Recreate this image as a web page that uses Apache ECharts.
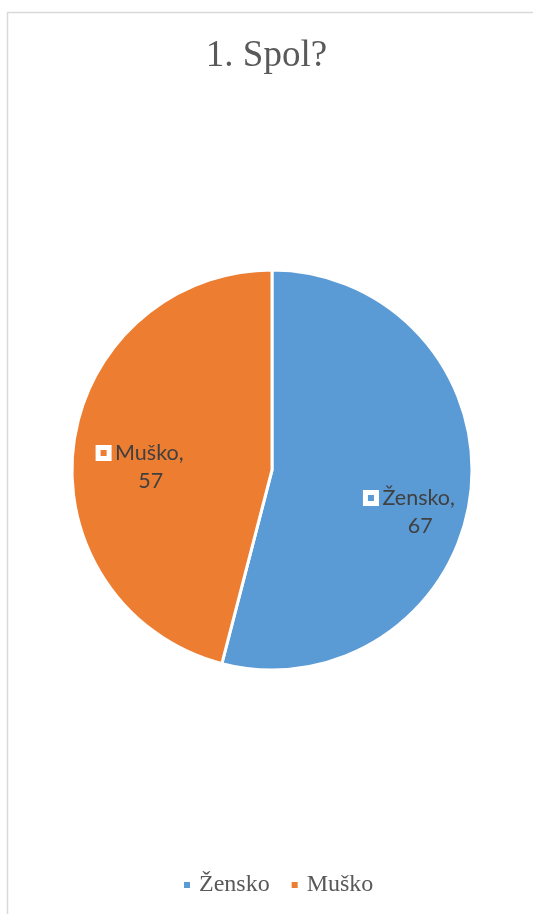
<!DOCTYPE html>
<html>
<head>
<meta charset="utf-8">
<script src="https://cdn.jsdelivr.net/npm/echarts@6/dist/echarts.min.js"></script>
<style>
html,body{margin:0;padding:0;background:#fff;}
#chart{width:533px;height:914px;}
</style>
</head>
<body>
<div id="chart"></div>
<script>
const titleText = '1. Spol?';
const categories = ['Žensko', 'Muško'];
const values = [67, 57];
const colors = ['#5B9BD5', '#ED7D31'];

const labelOffsets = [[36, 29], [-29, 10]];

const chart = echarts.init(document.getElementById('chart'), null, {renderer: 'canvas'});
chart.setOption({
  animation: false,
  backgroundColor: '#fff',
  color: colors,
  graphic: [{
    type: 'rect',
    shape: {x: 7.5, y: 12.5, width: 600, height: 1000},
    style: {fill: 'none', stroke: '#d9d9d9', lineWidth: 1.5},
    silent: true,
    z: -10
  }],
  title: {
    text: titleText,
    left: 'center',
    top: 33,
    textStyle: {fontFamily: 'Liberation Serif', fontSize: 37, fontWeight: 'normal', color: '#595959'}
  },
  legend: {
    bottom: 12,
    left: 177,
    icon: 'rect',
    itemWidth: 8,
    itemHeight: 8,
    itemGap: 20,
    textStyle: {fontFamily: 'Liberation Serif', fontSize: 24, color: '#595959', padding: [0,0,0,3]},
    data: categories
  },
  series: [{
    type: 'pie',
    center: [272, 470],
    radius: 200,
    startAngle: 90,
    clockwise: true,
    itemStyle: {borderColor: '#fff', borderWidth: 3},
    labelLine: {show: false},
    label: {
      show: true,
      position: 'inside',
      formatter: p => '{box|}{gap|}{t|' + p.name + ',}\n{pad|}{t|' + p.value + '}',
      color: '#404040',
      fontFamily: 'Lato',
      fontSize: 21.5,
      lineHeight: 28,
      align: 'center',
      rich: {
        box: {width: 11, height: 11, borderColor: '#fff', borderWidth: 2.5, backgroundColor: 'transparent'},
        gap: {width: 6},
        pad: {width: 20},
        t: {fontFamily: 'Lato', fontSize: 21.5, color: '#404040', lineHeight: 28}
      }
    },
    labelLayout: function (params) {
      const o = labelOffsets[params.dataIndex];
      return {dx: o[0], dy: o[1]};
    },
    data: categories.map((c, i) => ({name: c, value: values[i]}))
  }]
});
</script>
</body>
</html>
